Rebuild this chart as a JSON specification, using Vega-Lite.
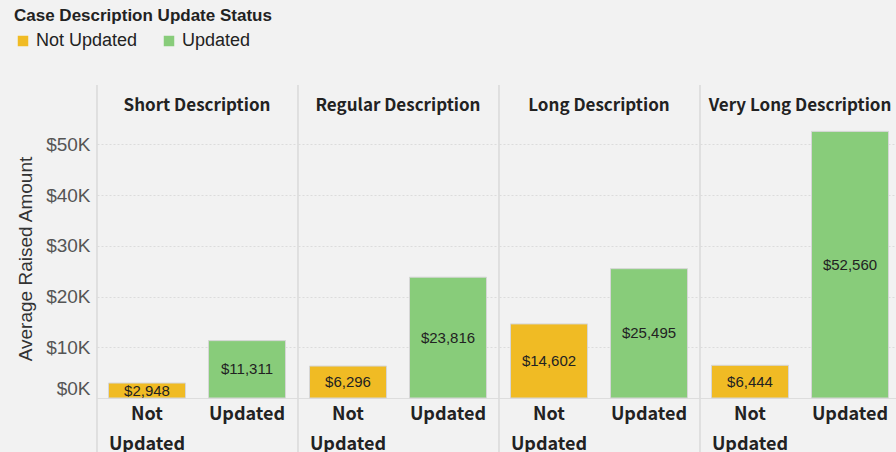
{
  "$schema": "https://vega.github.io/schema/vega-lite/v6.json",
  "background": "#f2f2f2",
  "padding": {"left": 14, "top": 8, "right": 0, "bottom": 0},
  "data": {"values": [
    {"Description": "Short Description", "Status": "Not Updated", "Amount": 2948},
    {"Description": "Short Description", "Status": "Updated", "Amount": 11311},
    {"Description": "Regular Description", "Status": "Not Updated", "Amount": 6296},
    {"Description": "Regular Description", "Status": "Updated", "Amount": 23816},
    {"Description": "Long Description", "Status": "Not Updated", "Amount": 14602},
    {"Description": "Long Description", "Status": "Updated", "Amount": 25495},
    {"Description": "Very Long Description", "Status": "Not Updated", "Amount": 6444},
    {"Description": "Very Long Description", "Status": "Updated", "Amount": 52560}
  ]},
  "spacing": 0,
  "hconcat": [
    {
      "width": 200, "height": 279,
      "title": {"text": "Short Description"},
      "transform": [{"filter": "datum.Description == 'Short Description'"}],
      "layer": [
        {
          "mark": {"type": "bar", "stroke": "#d6d6d6", "strokeWidth": 1},
          "encoding": {
            "x": {"field": "Status", "type": "nominal", "sort": ["Not Updated", "Updated"], "scale": {"paddingInner": 0.23, "paddingOuter": 0.115}},
            "y": {"field": "Amount", "type": "quantitative", "scale": {"domain": [0, 55000], "nice": false},
              "axis": {"title": "Average Raised Amount", "values": [0, 10000, 20000, 30000, 40000, 50000],
                "labelExpr": "'$' + (datum.value / 1000) + 'K'", "labelFlush": true}},
            "color": {"field": "Status", "type": "nominal",
              "legend": {"title": "Case Description Update Status", "orient": "none", "legendX": -83, "legendY": -111, "direction": "horizontal"}}
          }
        },
        {
          "mark": {"type": "text", "font": "Liberation Sans", "fontSize": 15, "color": "#222222"},
          "encoding": {
            "x": {"field": "Status", "type": "nominal", "sort": ["Not Updated", "Updated"], "axis": null},
            "y": {"field": "Amount", "type": "quantitative", "scale": {"domain": [0, 110000], "nice": false}, "axis": null},
            "text": {"field": "Amount", "type": "quantitative", "format": "$,.0f"}
          }
        },
        {
          "mark": {"type": "rule", "color": "#d9d9d9", "strokeWidth": 1},
          "encoding": {
            "x": {"datum": 0, "type": "quantitative", "scale": {"domain": [0, 1]}, "axis": null},
            "y": {"datum": 61700, "type": "quantitative", "scale": {"domain": [0, 55000], "nice": false}, "axis": null},
            "y2": {"datum": -11000}
          }
        }
      ],
      "resolve": {"scale": {"x": "independent", "y": "independent"}}
    },
    {
      "width": 200, "height": 279,
      "title": {"text": "Regular Description"},
      "transform": [{"filter": "datum.Description == 'Regular Description'"}],
      "layer": [
        {
          "mark": {"type": "bar", "stroke": "#d6d6d6", "strokeWidth": 1},
          "encoding": {
            "x": {"field": "Status", "type": "nominal", "sort": ["Not Updated", "Updated"], "scale": {"paddingInner": 0.23, "paddingOuter": 0.115}},
            "y": {"field": "Amount", "type": "quantitative", "scale": {"domain": [0, 55000], "nice": false},
              "axis": {"title": null, "labels": false, "values": [0, 10000, 20000, 30000, 40000, 50000]}},
            "color": {"field": "Status", "type": "nominal"}
          }
        },
        {
          "mark": {"type": "text", "font": "Liberation Sans", "fontSize": 15, "color": "#222222"},
          "encoding": {
            "x": {"field": "Status", "type": "nominal", "sort": ["Not Updated", "Updated"], "axis": null},
            "y": {"field": "Amount", "type": "quantitative", "scale": {"domain": [0, 110000], "nice": false}, "axis": null},
            "text": {"field": "Amount", "type": "quantitative", "format": "$,.0f"}
          }
        },
        {
          "mark": {"type": "rule", "color": "#d9d9d9", "strokeWidth": 1},
          "encoding": {
            "x": {"datum": 0, "type": "quantitative", "scale": {"domain": [0, 1]}, "axis": null},
            "y": {"datum": 61700, "type": "quantitative", "scale": {"domain": [0, 55000], "nice": false}, "axis": null},
            "y2": {"datum": -11000}
          }
        }
      ],
      "resolve": {"scale": {"x": "independent", "y": "independent"}}
    },
    {
      "width": 200, "height": 279,
      "title": {"text": "Long Description"},
      "transform": [{"filter": "datum.Description == 'Long Description'"}],
      "layer": [
        {
          "mark": {"type": "bar", "stroke": "#d6d6d6", "strokeWidth": 1},
          "encoding": {
            "x": {"field": "Status", "type": "nominal", "sort": ["Not Updated", "Updated"], "scale": {"paddingInner": 0.23, "paddingOuter": 0.115}},
            "y": {"field": "Amount", "type": "quantitative", "scale": {"domain": [0, 55000], "nice": false},
              "axis": {"title": null, "labels": false, "values": [0, 10000, 20000, 30000, 40000, 50000]}},
            "color": {"field": "Status", "type": "nominal"}
          }
        },
        {
          "mark": {"type": "text", "font": "Liberation Sans", "fontSize": 15, "color": "#222222"},
          "encoding": {
            "x": {"field": "Status", "type": "nominal", "sort": ["Not Updated", "Updated"], "axis": null},
            "y": {"field": "Amount", "type": "quantitative", "scale": {"domain": [0, 110000], "nice": false}, "axis": null},
            "text": {"field": "Amount", "type": "quantitative", "format": "$,.0f"}
          }
        },
        {
          "mark": {"type": "rule", "color": "#d9d9d9", "strokeWidth": 1},
          "encoding": {
            "x": {"datum": 0, "type": "quantitative", "scale": {"domain": [0, 1]}, "axis": null},
            "y": {"datum": 61700, "type": "quantitative", "scale": {"domain": [0, 55000], "nice": false}, "axis": null},
            "y2": {"datum": -11000}
          }
        }
      ],
      "resolve": {"scale": {"x": "independent", "y": "independent"}}
    },
    {
      "width": 200, "height": 279,
      "title": {"text": "Very Long Description"},
      "transform": [{"filter": "datum.Description == 'Very Long Description'"}],
      "layer": [
        {
          "mark": {"type": "bar", "stroke": "#d6d6d6", "strokeWidth": 1},
          "encoding": {
            "x": {"field": "Status", "type": "nominal", "sort": ["Not Updated", "Updated"], "scale": {"paddingInner": 0.23, "paddingOuter": 0.115}},
            "y": {"field": "Amount", "type": "quantitative", "scale": {"domain": [0, 55000], "nice": false},
              "axis": {"title": null, "labels": false, "values": [0, 10000, 20000, 30000, 40000, 50000]}},
            "color": {"field": "Status", "type": "nominal"}
          }
        },
        {
          "mark": {"type": "text", "font": "Liberation Sans", "fontSize": 15, "color": "#222222"},
          "encoding": {
            "x": {"field": "Status", "type": "nominal", "sort": ["Not Updated", "Updated"], "axis": null},
            "y": {"field": "Amount", "type": "quantitative", "scale": {"domain": [0, 110000], "nice": false}, "axis": null},
            "text": {"field": "Amount", "type": "quantitative", "format": "$,.0f"}
          }
        },
        {
          "mark": {"type": "rule", "color": "#d9d9d9", "strokeWidth": 1},
          "encoding": {
            "x": {"datum": 0, "type": "quantitative", "scale": {"domain": [0, 1]}, "axis": null},
            "y": {"datum": 61700, "type": "quantitative", "scale": {"domain": [0, 55000], "nice": false}, "axis": null},
            "y2": {"datum": -11000}
          }
        }
      ],
      "resolve": {"scale": {"x": "independent", "y": "independent"}}
    }
  ],
  "resolve": {"scale": {"color": "shared"}},
  "config": {
    "view": {"stroke": null},
    "range": {"category": ["#f0bb24", "#88cc7a"]},
    "title": {"font": "Noto Sans CJK JP", "fontSize": 17, "fontWeight": "bold", "color": "#222222", "anchor": "middle", "offset": -30},
    "axisX": {"title": null, "labelAngle": 0, "labelExpr": "datum.label == 'Not Updated' ? ['Not', 'Updated'] : datum.label",
      "labelFont": "Noto Sans CJK JP", "labelFontSize": 18, "labelFontWeight": "bold", "labelColor": "#222222",
      "labelLineHeight": 30, "labelPadding": 7, "ticks": false, "domain": true, "domainColor": "#dddddd", "grid": false},
    "axisY": {"labelFont": "Liberation Sans", "labelFontSize": 19, "labelColor": "#555555", "labelPadding": 7,
      "titleFont": "Liberation Sans", "titleFontSize": 19, "titleFontWeight": "normal", "titleColor": "#333333", "titlePadding": 10,
      "domain": false, "ticks": false, "grid": true, "gridColor": "#dcdcdc", "gridDash": [2, 2]},
    "legend": {
      "titleFont": "Liberation Sans", "titleFontSize": 17, "titleFontWeight": "bold", "titleColor": "#222222", "titleLimit": 500,
      "labelFont": "Liberation Sans", "labelFontSize": 18, "labelColor": "#222222",
      "symbolType": "square", "symbolSize": 110, "symbolStrokeWidth": 0, "columnPadding": 22, "titlePadding": 7}
  }
}
